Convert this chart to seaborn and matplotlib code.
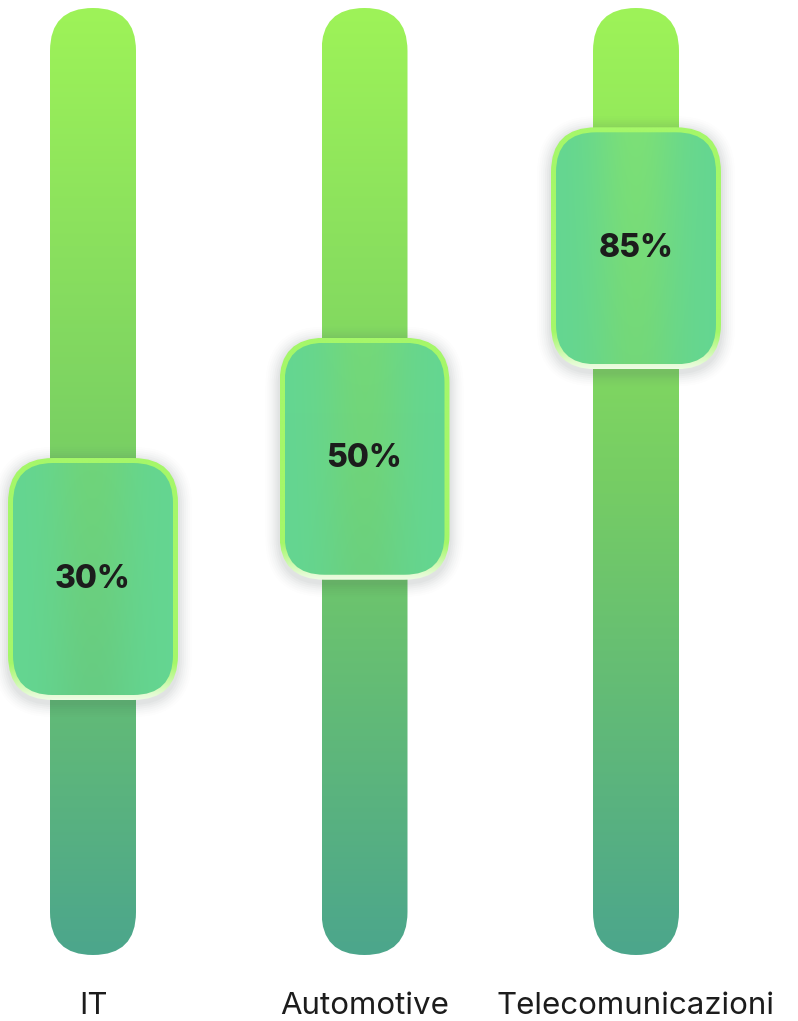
import numpy as np
import pandas as pd
import matplotlib
matplotlib.use("Agg")
import matplotlib.pyplot as plt
import seaborn as sns
from matplotlib.patches import FancyBboxPatch
import matplotlib.transforms as mtransforms

# ---------------- data ----------------
categories = ["IT", "Automotive", "Telecomunicazioni"]
values = [30, 50, 85]
value_labels = ["30%", "50%", "85%"]

sns.set_theme(style="white")
plt.rcParams['font.family'] = ['Inter', 'DejaVu Sans']

W, H = 798, 1021
fig = plt.figure(figsize=(W / 100, H / 100), dpi=100)
ax = fig.add_axes([0, 0, 1, 1])

# pixel geometry of the scales
X_PX0, X_STEP = 93.0, 271.5          # category 0 centre, spacing (px)
Y_A, Y_B = 759.4, 6.013              # y_px(from top) = Y_A - Y_B * value

def v_of_px(ypx):
    return (Y_A - ypx) / Y_B

TRACK_TOP = v_of_px(8)
TRACK_BOT = v_of_px(955)
TRACK_W = 86 / X_STEP

df = pd.DataFrame({"category": categories, "value": values,
                   "track": [TRACK_TOP - TRACK_BOT] * 3})

# seaborn bars establish the categorical scale and track geometry
sns.barplot(data=df, x="category", y="track", ax=ax, width=TRACK_W,
            errorbar=None)
bars = list(ax.patches)
for b in bars:
    b.set_visible(False)

aspect = X_STEP / Y_B

def rounded(x0, y0, w, h, r_px, **kw):
    return FancyBboxPatch((x0, y0), w, h,
                          boxstyle=f"round,pad=0,rounding_size={r_px / X_STEP}",
                          mutation_aspect=aspect, **kw)

def track_color(v):
    t = np.clip((TRACK_TOP - v) / (TRACK_TOP - TRACK_BOT), 0, 1)
    top = np.array([158, 243, 88]) / 255
    mid = np.array([118, 205, 100]) / 255
    bot = np.array([76, 166, 140]) / 255
    t = np.asarray(t)[..., None]
    c1 = top + (mid - top) * np.clip(t / 0.5, 0, 1)
    c2 = mid + (bot - mid) * np.clip((t - 0.5) / 0.5, 0, 1)
    return np.where(t < 0.5, c1, c2)

# ---------------- tracks ----------------
for bar in bars[:3]:
    x0 = bar.get_x()
    w = bar.get_width()
    patch = rounded(x0, TRACK_BOT, w, TRACK_TOP - TRACK_BOT, 42.9,
                    fc="none", ec="none", zorder=1)
    ax.add_patch(patch)
    ys = np.linspace(TRACK_TOP, TRACK_BOT, 300)
    img = np.repeat(track_color(ys)[:, None, :], 2, axis=1)
    im = ax.imshow(img, extent=[x0, x0 + w, TRACK_BOT, TRACK_TOP],
                   aspect="auto", zorder=1, interpolation="bilinear")
    im.set_clip_path(patch)

# ---------------- knobs ----------------
KW = 170 / X_STEP
KH = 242 / Y_B
for i, (v, lab) in enumerate(zip(values, value_labels)):
    cx = i
    x0, y0 = cx - KW / 2, v - KH / 2
    # soft shadow
    for k, a in zip(range(14, 0, -2), [0.012, 0.016, 0.02, 0.025, 0.03, 0.035, 0.04]):
        sh = rounded(x0 - k / X_STEP, y0 - (k + 3) / Y_B, KW + 2 * k / X_STEP,
                     KH + 2 * k / Y_B, 45 + k, fc=(0.35, 0.38, 0.4), ec="none",
                     alpha=a, zorder=2)
        ax.add_patch(sh)
    # border (bright green to whitish at the bottom)
    border = rounded(x0, y0, KW, KH, 45, fc="none", ec="none", zorder=3)
    ax.add_patch(border)
    ys = np.linspace(0, 1, 200)[:, None]
    ctop = np.array([165, 247, 105]) / 255
    cbot = np.array([238, 252, 228]) / 255
    tt = np.clip((ys - 0.85) / 0.15, 0, 1)[..., None]
    bimg = ctop + (cbot - ctop) * tt
    bimg = np.repeat(bimg, 2, axis=1)
    im = ax.imshow(bimg, extent=[x0, x0 + KW, y0, y0 + KH], aspect="auto",
                   zorder=3, interpolation="bilinear")
    im.set_clip_path(border)
    # inner glass
    inset = 5
    ix0, iy0 = x0 + inset / X_STEP, y0 + inset / Y_B
    iw, ih = KW - 2 * inset / X_STEP, KH - 2 * inset / Y_B
    inner = rounded(ix0, iy0, iw, ih, 40, fc="none", ec="none", zorder=4)
    ax.add_patch(inner)
    nrow, ncol = 200, 120
    yy = np.linspace(iy0 + ih, iy0, nrow)
    u = np.linspace(-1, 1, ncol)
    tc = track_color(yy)[:, None, :]
    base = np.array([100, 214, 146]) / 255
    wgt = (0.55 * np.exp(-(u / 0.55) ** 2))[None, :, None]
    img = (1 - wgt) * base + wgt * (tc * 0.8 + np.array([125, 228, 120]) / 255 * 0.2)
    img = np.clip(img, 0, 1)
    im = ax.imshow(img, extent=[ix0, ix0 + iw, iy0, iy0 + ih], aspect="auto",
                   zorder=4, interpolation="bilinear")
    im.set_clip_path(inner)
    ax.text(cx, v, lab, ha="center", va="center", fontsize=23,
            fontweight=800, color="#1c1c1c", zorder=6)

# ---------------- category labels ----------------
lab_tr = mtransforms.blended_transform_factory(ax.transData, ax.transAxes)
for i, c in enumerate(categories):
    ax.text(i, 1 - 1006 / H, c, ha="center", va="center", fontsize=22.5,
            color="#1c1c1c", transform=lab_tr, zorder=6)

ax.set_xlim(-X_PX0 / X_STEP, (W - X_PX0) / X_STEP)
ax.set_ylim(v_of_px(H), v_of_px(0))
ax.set_axis_off()
fig.savefig("out.png", dpi=100)
